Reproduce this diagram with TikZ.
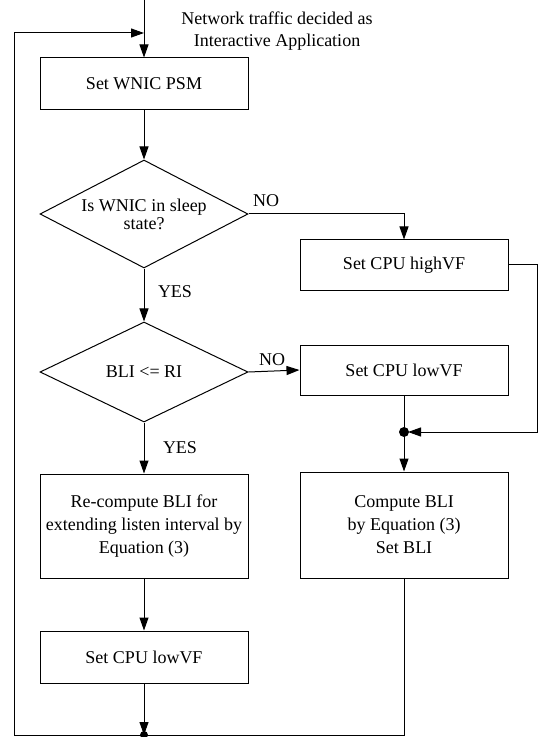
\documentclass[tikz,border=0pt]{standalone}
\usepackage{fontspec}
\setmainfont{Liberation Serif}
\usetikzlibrary{arrows.meta,shapes.geometric}

\tikzset{
  procbox/.style={draw, rectangle, minimum width=104pt, minimum height=#1,
    inner sep=1pt, align=center, font=\fontsize{9}{11.5}\selectfont},
  decision/.style={draw, diamond, aspect=2, inner sep=0pt, minimum width=104pt,
    minimum height=#1, align=center, font=\fontsize{9}{9}\selectfont},
  flow/.style={-{Triangle[length=6.5pt,width=4.5pt]}},
  lbl/.style={font=\fontsize{9}{11}\selectfont, inner sep=1pt},
}

\begin{document}
\begin{tikzpicture}[x=0.5pt, y=-0.5pt, line width=0.5pt]

    \useasboundingbox (0,0) rectangle (540,737);

    % 入口と戻りループの角
    \coordinate (top) at (144,0);
    \coordinate (loopin) at (144,33);
    \coordinate (tl) at (14,33);
    \coordinate (bl) at (14,735);
    \coordinate (jb) at (144,735);
    \coordinate (br) at (404,735);

    % 右側の合流点と角
    \coordinate (jr) at (404,432);
    \coordinate (nocorner) at (404,214);
    \coordinate (hr1) at (537,265);
    \coordinate (hr2) at (537,432);

    % ボックスと判断
    \node[procbox=26pt] (psm) at (144,84) {Set WNIC PSM};
    \node[decision=54pt] (sleep) at (144,214) {Is WNIC in sleep\\state?};
    \node[decision=50pt] (bli) at (144,372) {BLI <= RI};
    \node[procbox=25pt] (high) at (404,265) {Set CPU highVF};
    \node[procbox=25pt] (lowr) at (404,370) {Set CPU lowVF};
    \node[procbox=53pt] (comp) at (404,525) {Compute BLI\\by Equation (3)\\Set BLI};
    \node[procbox=52pt] (recomp) at (144,526) {Re-compute BLI for\\extending listen interval by\\Equation (3)};
    \node[procbox=26pt] (lowl) at (144,657) {Set CPU lowVF};

    % ラベル
    \node[lbl, align=center] (traffic) at (277,31) {Network traffic decided as\\Interactive Application};
    \node[lbl] (no1) at (266,201) {NO};
    \node[lbl] (yes1) at (175,292) {YES};
    \node[lbl] (no2) at (272,360) {NO};
    \node[lbl] (yes2) at (180,448) {YES};

    % 矢印
    \draw[flow] (top) -- (psm);
    \draw[flow] (psm) -- (sleep);
    \draw[flow] (sleep.east) -- (nocorner) -- (high.north);
    \draw[flow] (sleep) -- (bli);
    \draw[flow] (bli.east) -- (lowr.west);
    \draw[flow] (bli) -- (recomp);
    \draw[flow] (recomp) -- (lowl);
    \draw[flow] (lowl) -- (jb);
    \draw[flow, shorten >=2pt] (high.east) -- (hr1) -- (hr2) -- (jr);
    \draw (lowr) -- (jr);
    \draw[flow] (jr) -- (comp);
    \draw[flow] (comp) -- (br) -- (bl) -- (tl) -- (loopin);

    % 合流点
    \fill (jr) circle (2.5pt);
    \fill (jb) circle (2pt);

\end{tikzpicture}
\end{document}
